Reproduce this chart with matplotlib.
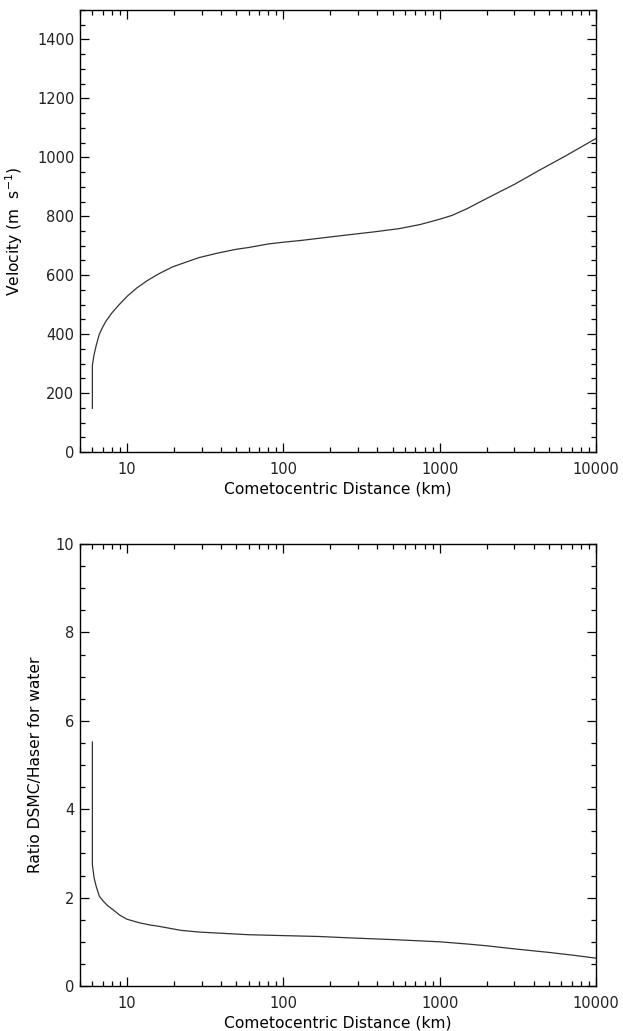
import numpy as np
import matplotlib

matplotlib.use("Agg")
import matplotlib.pyplot as plt
from matplotlib.ticker import FixedLocator, LogLocator, MultipleLocator, NullFormatter

# cometocentric distance (km) and gas velocity (m/s)
vel_dist = [6.0, 6.0, 6.15, 6.35, 6.65, 7.0, 7.35, 8.0, 8.9, 10, 11.5, 13.5, 16,
            19.5, 24, 29, 38, 50, 60, 80, 100, 130, 180, 260, 380, 550, 750,
            1000, 1200, 1500, 1800, 2400, 3000, 4300, 6400, 10000]
velocity = [148, 295, 330, 362, 400, 425, 445, 472, 500, 528, 556, 582, 605,
            628, 645, 660, 675, 688, 694, 706, 712, 718, 727, 737, 747, 758, 772,
            790, 803, 826, 848, 882, 908, 955, 1005, 1064]

# DSMC / Haser ratio for water, bottom panel
rat_dist = [6.0, 6.0, 6.15, 6.35, 6.65, 7.0, 7.5, 8.1, 9.0, 10, 12, 14, 16, 22,
            29, 37, 60, 100, 170, 260, 500, 1000, 1500, 2000, 3000, 5000, 7000,
            10000]
ratio = [5.52, 2.75, 2.45, 2.25, 2.03, 1.93, 1.82, 1.73, 1.60, 1.51, 1.43, 1.38,
         1.35, 1.26, 1.22, 1.20, 1.16, 1.14, 1.12, 1.09, 1.05, 1.00, 0.95, 0.91,
         0.84, 0.76, 0.70, 0.63]

XMAJ = [10, 100, 1000, 10000]
XLAB = ["10", "100", "1000", "10000"]

plt.rcParams.update({
    "font.family": "DejaVu Sans", "font.size": 10.5, "mathtext.default": "regular",
    "axes.labelsize": 11.2,
    "axes.linewidth": 1.0, "xtick.direction": "in", "ytick.direction": "in",
    "xtick.top": True, "ytick.right": True,
    "xtick.major.size": 6.8, "ytick.major.size": 6.8,
    "xtick.minor.size": 3.8, "ytick.minor.size": 3.8,
    "xtick.major.width": 0.9, "ytick.major.width": 0.9,
    "xtick.minor.width": 0.9, "ytick.minor.width": 0.9,
    "xtick.major.pad": 7.5, "ytick.major.pad": 4.0,
    "text.color": "#222222", "xtick.labelcolor": "#222222", "ytick.labelcolor": "#222222",
})


def style(ax, ymax, ymajor, yminor, ylabel):
    ax.set_xscale("log")
    ax.set_xlim(5, 10000)
    ax.set_ylim(0, ymax)
    ax.xaxis.set_major_locator(FixedLocator(XMAJ))
    ax.set_xticklabels(XLAB)
    ax.xaxis.set_minor_locator(LogLocator(base=10, subs=np.arange(2, 10), numticks=20))
    ax.xaxis.set_minor_formatter(NullFormatter())
    ax.yaxis.set_major_locator(MultipleLocator(ymajor))
    ax.yaxis.set_minor_locator(MultipleLocator(yminor))
    ax.set_xlabel("Cometocentric Distance (km)", labelpad=3)
    ax.set_ylabel(ylabel, labelpad=9)


fig = plt.figure(figsize=(6.23, 10.31), dpi=100)
ax1 = fig.add_axes([80 / 623, 1 - 452 / 1031, 516 / 623, 442 / 1031])
ax2 = fig.add_axes([80 / 623, 1 - 986 / 1031, 516 / 623, 442 / 1031])

ax1.plot(vel_dist, velocity, color="#333333", lw=0.9)
style(ax1, 1500, 200, 50, "Velocity (m  s$^{-1}$)")
ax1.set_yticks([0, 200, 400, 600, 800, 1000, 1200, 1400])

ax2.plot(rat_dist, ratio, color="#333333", lw=0.9)
style(ax2, 10, 2, 0.5, "Ratio DSMC/Haser for water")

fig.savefig("out.png", dpi=100)
